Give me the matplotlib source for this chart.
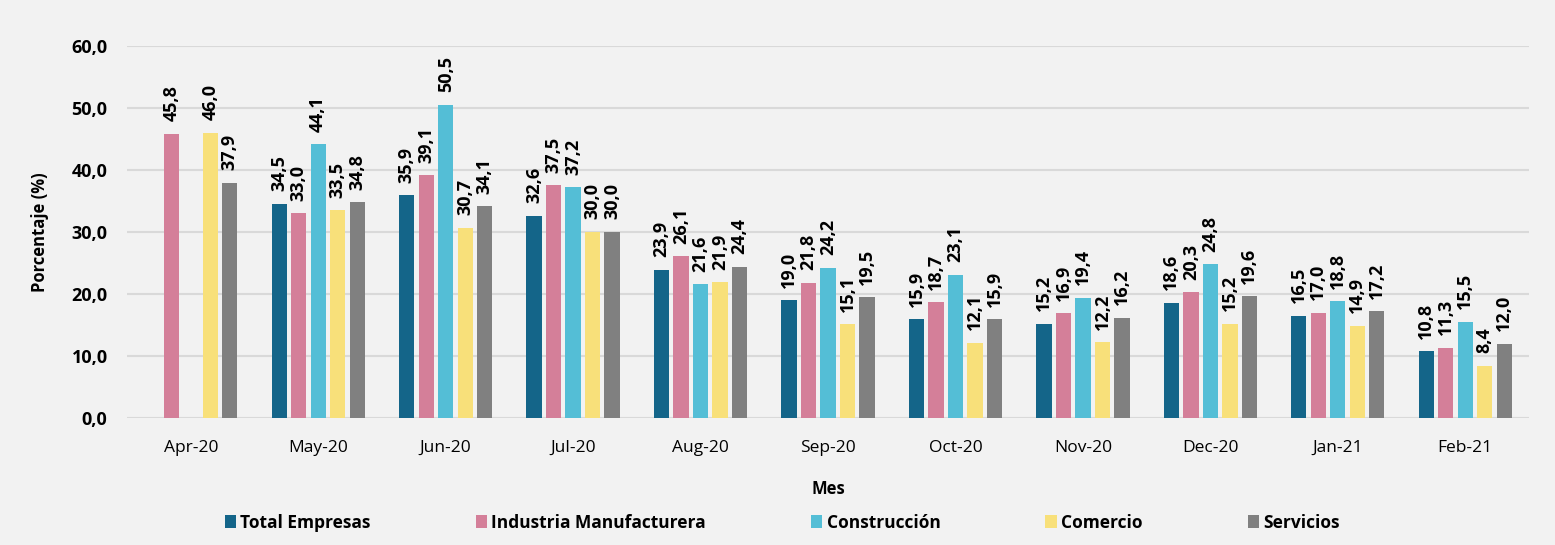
"""
Porcentaje de empresas por sector, Apr-20 a Feb-21.
Grouped bar chart with rotated value labels.
"""

import numpy as np
import matplotlib.pyplot as plt
from matplotlib.patches import Patch

plt.rcParams["font.family"] = ["Open Sans", "DejaVu Sans"]

MESES = ["Apr-20", "May-20", "Jun-20", "Jul-20", "Aug-20", "Sep-20",
         "Oct-20", "Nov-20", "Dec-20", "Jan-21", "Feb-21"]

SERIES = ["Total Empresas", "Industria Manufacturera", "Construcción",
          "Comercio", "Servicios"]

total_empresas = [np.nan, 34.5, 35.9, 32.6, 23.9, 19.0, 15.9, 15.2, 18.6, 16.5, 10.8]
industria      = [45.8, 33.0, 39.1, 37.5, 26.1, 21.8, 18.7, 16.9, 20.3, 17.0, 11.3]
construccion   = [np.nan, 44.1, 50.5, 37.2, 21.6, 24.2, 23.1, 19.4, 24.8, 18.8, 15.5]
comercio       = [46.0, 33.5, 30.7, 30.0, 21.9, 15.1, 12.1, 12.2, 15.2, 14.9, 8.4]
servicios      = [37.9, 34.8, 34.1, 30.0, 24.4, 19.5, 15.9, 16.2, 19.6, 17.2, 12.0]

VALUES = [total_empresas, industria, construccion, comercio, servicios]
COLORS = ["#146589", "#D47F99", "#54BED6", "#F8E07A", "#808080"]
BG = "#F2F2F2"


def fmt(v):
    return f"{v:.1f}".replace(".", ",")


def main():
    fig = plt.figure(figsize=(15.55, 5.45), dpi=100, facecolor=BG)
    ax = fig.add_axes([0.0817, 0.233, 0.9016, 0.683], facecolor=BG)

    x = np.arange(len(MESES))
    pitch = 0.153
    width = 0.12

    for i, (vals, color) in enumerate(zip(VALUES, COLORS)):
        pos = x + (i - 2) * pitch
        ax.bar(pos, vals, width=width, color=color, zorder=3)
        # value labels, rotated, a bit above each bar
        for px, v in zip(pos, vals):
            if np.isnan(v):
                continue
            ax.annotate(fmt(v), (px, v),
                        xytext=(0, 9), textcoords="offset points",
                        rotation=90, ha="center", va="bottom",
                        fontsize=13, fontweight="bold", zorder=4)

    ax.set_xlim(-0.5, len(MESES) - 0.5)
    ax.set_ylim(0, 60)
    yticks = np.arange(0, 61, 10)
    ax.set_yticks(yticks)
    ax.set_yticklabels([fmt(t) for t in yticks], fontsize=13, fontweight="bold")
    ax.set_xticks(x)
    ax.set_xticklabels(MESES, fontsize=12.5)
    ax.tick_params(length=0)
    ax.tick_params(axis="x", pad=16)
    ax.tick_params(axis="y", pad=14)
    ax.grid(axis="y", color="#D9D9D9", linewidth=1.5, zorder=0)
    for s in ax.spines.values():
        s.set_visible(False)

    ax.set_ylabel("Porcentaje (%)", fontsize=12, fontweight="bold", labelpad=16)
    ax.set_xlabel("Mes", fontsize=12, fontweight="bold", labelpad=17)

    handles = [Patch(facecolor=c, label=s) for c, s in zip(COLORS, SERIES)]
    fig.legend(handles=handles, loc="center", bbox_to_anchor=(0.503, 0.041),
               ncol=5, frameon=False, handlelength=0.65, handleheight=0.75,
               handletextpad=0.25, columnspacing=6.05,
               prop={"size": 12.5, "weight": "bold"})

    fig.savefig("out.png", dpi=100, facecolor=BG)
    plt.close(fig)


if __name__ == "__main__":
    main()
